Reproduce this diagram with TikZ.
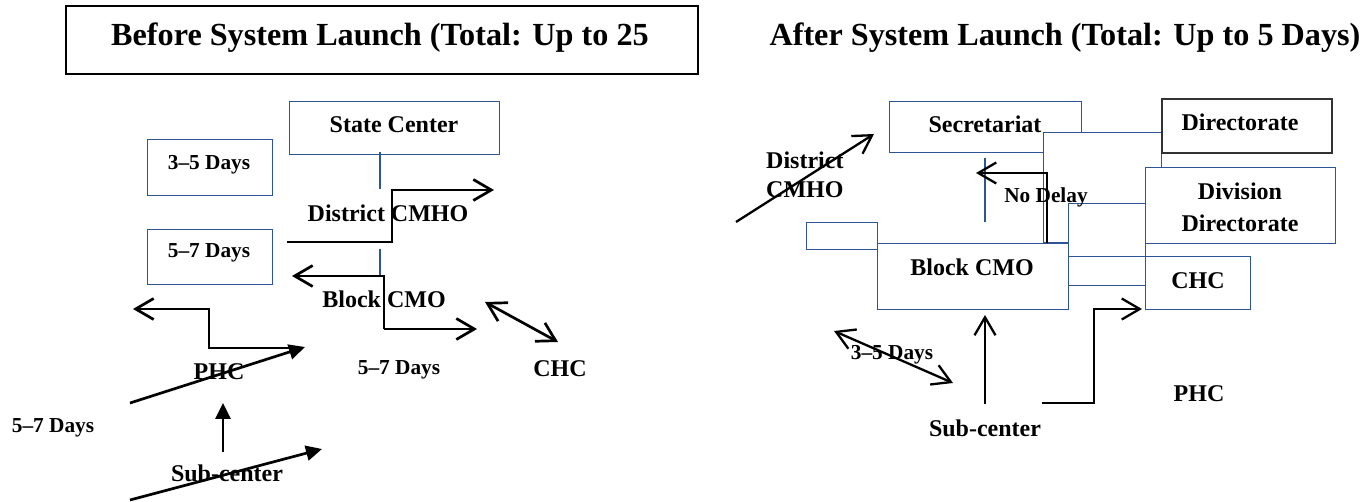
\documentclass[tikz,border=0pt]{standalone}
\usepackage{fontspec}
\setmainfont{Liberation Serif}
\usetikzlibrary{arrows.meta}
\definecolor{boxblue}{RGB}{47,84,150}
\definecolor{darkedge}{RGB}{50,50,50}
\begin{document}
\begin{tikzpicture}[x=1pt,y=-1pt,
  bluebox/.style={draw=boxblue,line width=1.3pt,fill=white,inner sep=0pt,anchor=north west},
  blackbox/.style={draw=black,line width=1.6pt,fill=white,inner sep=0pt,anchor=north west},
  greybox/.style={draw=darkedge,line width=1.6pt,fill=white,inner sep=0pt,anchor=north west},
  lbl/.style={font=\fontsize{24}{28}\selectfont\bfseries,inner sep=0pt,anchor=base},
  lblw/.style={font=\fontsize{24}{28}\selectfont\bfseries,inner sep=0pt,anchor=base west},
  dlbl/.style={font=\fontsize{21.3}{25}\selectfont\bfseries,inner sep=0pt,anchor=base},
  ttl/.style={font=\fontsize{32.2}{38}\selectfont\bfseries,inner sep=0pt,anchor=base},
  thickl/.style={line width=2.7pt,line join=miter},
  thinl/.style={line width=2.3pt,line join=miter},
  bluel/.style={draw=boxblue,line width=1.3pt},
  openhead/.style={-{Straight Barb[length=18pt,width=21pt]}},
  openboth/.style={{Straight Barb[length=18pt,width=21pt]}-{Straight Barb[length=18pt,width=21pt]}},
  openstart/.style={{Straight Barb[length=18pt,width=21pt]}-},
  fillhead/.style={-{Triangle[length=16pt,width=15pt]}}
]
\useasboundingbox (0,0) rectangle (1369,502);

% ---------------- Left: before launch ----------------
\node[blackbox,minimum width=632pt,minimum height=68pt] (titleL) at (65,5) {};
\node[ttl] (titleLtext) at (380,46) {Before System Launch (Total: Up to 25};

\node[bluebox,minimum width=210pt,minimum height=53pt] (stateBox) at (289,101) {};
\node[bluebox,minimum width=125pt,minimum height=56pt] (d35Box) at (147,139) {};
\node[bluebox,minimum width=125pt,minimum height=55pt] (d57Box) at (147,229) {};

\node[lbl] (state) at (394,133) {State Center};
\node[dlbl] (d35) at (209,170) {3–5 Days};
\node[dlbl] (d57) at (209,258) {5–7 Days};
\node[lbl] (district) at (388,222) {District CMHO};
\node[lbl] (block) at (384,308) {Block CMO};
\node[lbl] (phc) at (219,380) {PHC};
\node[dlbl] (d57mid) at (399,375) {5–7 Days};
\node[lbl] (chc) at (560,377) {CHC};
\node[dlbl] (d57left) at (53,433) {5–7 Days};
\node[lbl] (sub) at (227,482) {Sub-center};

% blue connector stubs
\coordinate (vA) at (380,152);
\coordinate (vB) at (380,189);
\coordinate (vC) at (380,249);
\coordinate (vD) at (380,276);
\draw[bluel] (vA) -- (vB);
\draw[bluel] (vC) -- (vD);

% step arrow to the right (upper)
\coordinate (s1a) at (287,242);
\coordinate (s1b) at (392,242);
\coordinate (s1c) at (392,190);
\coordinate (s1d) at (494,190);
\draw[thickl,openhead] (s1a) -- (s1b) -- (s1c) -- (s1d);

% step arrow Block CMO
\coordinate (s2a) at (292,276);
\coordinate (s2b) at (384,276);
\coordinate (s2c) at (384,329);
\coordinate (s2d) at (477,329);
\draw[thickl,openstart] (s2a) -- (s2b) -- (s2c);
\draw[thickl,openhead] (s2c) -- (s2d);

% double arrow to CHC
\coordinate (c1) at (485,302);
\coordinate (c2) at (558,342);
\draw[thickl,openboth] (c1) -- (c2);

% left step arrow
\coordinate (s3a) at (133,309);
\coordinate (s3b) at (209,309);
\coordinate (s3c) at (209,348);
\coordinate (s3d) at (292,348);
\draw[thickl,openstart] (s3a) -- (s3b) -- (s3c) -- (s3d);

% diagonal filled arrows
\coordinate (g1a) at (130,403);
\coordinate (g1b) at (305,347);
\draw[thickl,fillhead] (g1a) -- (g1b);
\coordinate (g2a) at (223,452);
\coordinate (g2b) at (223,403);
\draw[thickl,fillhead] (g2a) -- (g2b);
\coordinate (g3a) at (130,500);
\coordinate (g3b) at (322,449);
\draw[thickl,fillhead] (g3a) -- (g3b);

% ---------------- Right: after launch ----------------
\node[ttl] (titleR) at (1065,46) {After System Launch (Total: Up to 5 Days)};

\node[bluebox,minimum width=192pt,minimum height=51pt] (secBox) at (889,101) {};
\node[bluebox,minimum width=71pt,minimum height=27pt] (smallBox) at (806,222) {};
\node[bluebox,minimum width=118pt,minimum height=110pt] (rectA) at (1043,132) {};
\node[bluebox,minimum width=77pt,minimum height=53pt] (rectB) at (1068,203) {};
\node[bluebox,minimum width=77pt,minimum height=29pt] (rectC) at (1068,256) {};
\node[bluebox,minimum width=190pt,minimum height=76pt] (divBox) at (1145,167) {};
\node[greybox,minimum width=170pt,minimum height=54pt] (dirBox) at (1161,98) {};
\node[bluebox,minimum width=191pt,minimum height=66pt] (blockBox) at (877,243) {};
\node[bluebox,minimum width=105pt,minimum height=53pt] (chcBox) at (1145,256) {};

\coordinate (bv1) at (985,158);
\coordinate (bv2) at (985,222);
\draw[bluel] (bv1) -- (bv2);

\coordinate (nd1) at (1047,243);
\coordinate (nd2) at (1047,173);
\coordinate (nd3) at (976,173);
\draw[thinl,openhead] (nd1) -- (nd2) -- (nd3);

\node[lbl] (sec) at (985,133) {Secretariat};
\node[lbl] (dir) at (1240,131) {Directorate};
\node[lblw] (distR1) at (766,169) {District};
\node[lblw] (distR2) at (766,198) {CMHO};
\node[dlbl] (nodelay) at (1046,203) {No Delay};
\node[lbl] (div1) at (1240,200) {Division};
\node[lbl] (div2) at (1240,232) {Directorate};
\node[lbl] (blockR) at (972,276) {Block CMO};
\node[lbl] (chcR) at (1198,289) {CHC};
\node[dlbl] (d35R) at (892,360) {3–5 Days};
\node[lbl] (subR) at (985,437) {Sub-center};
\node[lbl] (phcR) at (1199,402) {PHC};

\coordinate (da1) at (736,222);
\coordinate (da2) at (874,134);
\draw[thinl,openhead] (da1) -- (da2);

\coordinate (ua1) at (985,404);
\coordinate (ua2) at (985,315);
\draw[thinl,openhead] (ua1) -- (ua2);

\coordinate (db1) at (834,331);
\coordinate (db2) at (953,383);
\draw[thinl,openboth] (db1) -- (db2);

\coordinate (sr1) at (1042,403);
\coordinate (sr2) at (1094,403);
\coordinate (sr3) at (1094,309);
\coordinate (sr4) at (1142,309);
\draw[thinl,openhead] (sr1) -- (sr2) -- (sr3) -- (sr4);
\end{tikzpicture}
\end{document}
